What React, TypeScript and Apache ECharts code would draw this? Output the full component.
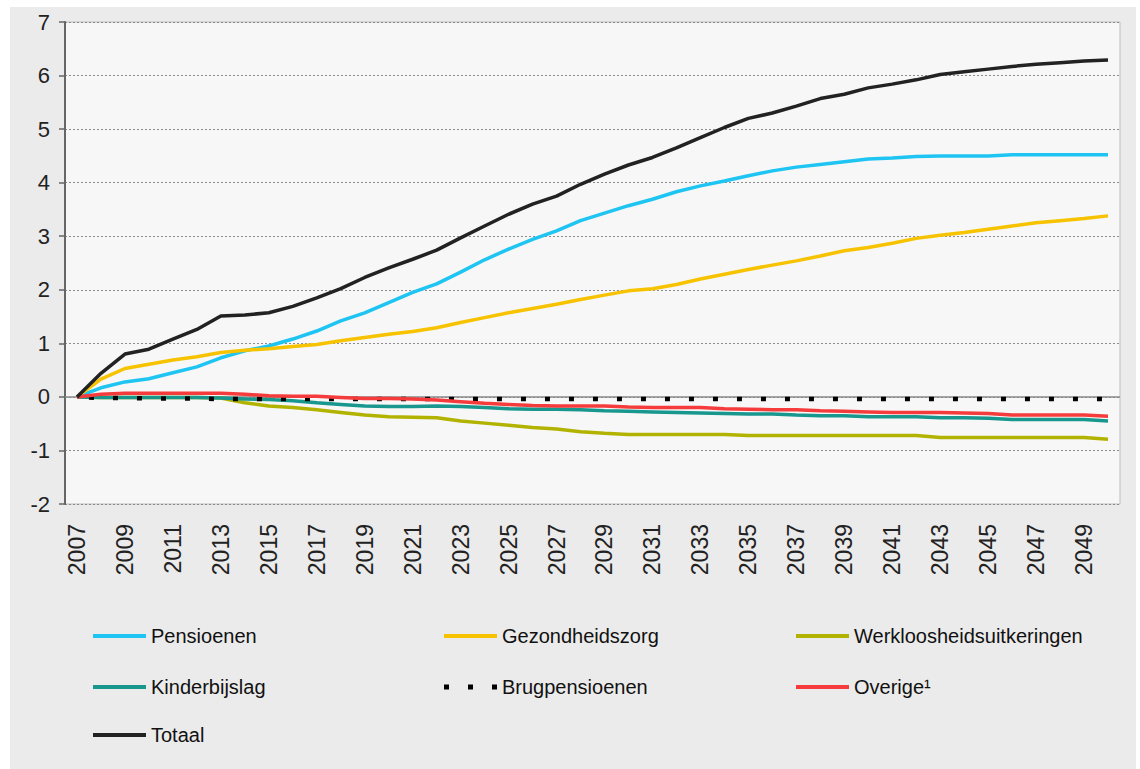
import React, { useEffect, useRef } from "react";
import * as echarts from "echarts";

const years: string[] = [
  "2007","2008","2009","2010","2011","2012","2013","2014","2015","2016",
  "2017","2018","2019","2020","2021","2022","2023","2024","2025","2026",
  "2027","2028","2029","2030","2031","2032","2033","2034","2035","2036",
  "2037","2038","2039","2040","2041","2042","2043","2044","2045","2046",
  "2047","2048","2049","2050",
];

const yTicks: number[] = [-2, -1, 0, 1, 2, 3, 4, 5, 6, 7];

const pensioenen: number[] = [
  0, 0.17, 0.28, 0.34, 0.45, 0.56, 0.73, 0.86, 0.95, 1.08,
  1.23, 1.42, 1.57, 1.76, 1.95, 2.11, 2.33, 2.56, 2.76, 2.94,
  3.10, 3.29, 3.43, 3.57, 3.69, 3.83, 3.94, 4.03, 4.13, 4.22,
  4.29, 4.34, 4.39, 4.44, 4.46, 4.49, 4.50, 4.50, 4.50, 4.52,
  4.52, 4.52, 4.52, 4.52,
];

const gezondheidszorg: number[] = [
  0, 0.33, 0.53, 0.61, 0.69, 0.75, 0.83, 0.87, 0.90, 0.94,
  0.98, 1.05, 1.11, 1.17, 1.22, 1.29, 1.39, 1.48, 1.57, 1.65,
  1.73, 1.82, 1.90, 1.98, 2.02, 2.10, 2.20, 2.29, 2.38, 2.46,
  2.54, 2.63, 2.73, 2.79, 2.87, 2.96, 3.02, 3.07, 3.13, 3.19,
  3.25, 3.29, 3.33, 3.38,
];

const werkloosheid: number[] = [
  0, -0.01, -0.01, -0.01, -0.01, -0.01, -0.02, -0.11, -0.17, -0.20,
  -0.24, -0.29, -0.34, -0.37, -0.38, -0.39, -0.45, -0.49, -0.53, -0.57,
  -0.60, -0.65, -0.68, -0.70, -0.70, -0.70, -0.70, -0.70, -0.72, -0.72,
  -0.72, -0.72, -0.72, -0.72, -0.72, -0.72, -0.76, -0.76, -0.76, -0.76,
  -0.76, -0.76, -0.76, -0.79,
];

const kinderbijslag: number[] = [
  0, -0.01, -0.01, -0.01, -0.01, -0.01, -0.02, -0.04, -0.05, -0.07,
  -0.11, -0.14, -0.17, -0.18, -0.18, -0.17, -0.18, -0.20, -0.22, -0.23,
  -0.23, -0.24, -0.26, -0.27, -0.28, -0.29, -0.30, -0.31, -0.32, -0.32,
  -0.34, -0.35, -0.35, -0.37, -0.37, -0.37, -0.39, -0.39, -0.40, -0.42,
  -0.42, -0.42, -0.42, -0.45,
];

const brugpensioenen: number[] = [
  0, -0.02, -0.02, -0.03, -0.03, -0.03, -0.04, -0.04, -0.04, -0.04,
  -0.04, -0.04, -0.04, -0.04, -0.04, -0.04, -0.04, -0.04, -0.04, -0.04,
  -0.04, -0.04, -0.04, -0.04, -0.04, -0.04, -0.04, -0.04, -0.04, -0.04,
  -0.04, -0.04, -0.04, -0.04, -0.04, -0.04, -0.04, -0.04, -0.04, -0.04,
  -0.04, -0.04, -0.04, -0.04,
];

const overige: number[] = [
  0, 0.05, 0.07, 0.07, 0.07, 0.07, 0.07, 0.05, 0.02, 0.01,
  0.01, -0.01, -0.03, -0.03, -0.04, -0.06, -0.09, -0.12, -0.14, -0.16,
  -0.17, -0.17, -0.17, -0.19, -0.20, -0.20, -0.20, -0.22, -0.23, -0.24,
  -0.24, -0.26, -0.27, -0.28, -0.29, -0.29, -0.29, -0.30, -0.31, -0.34,
  -0.34, -0.34, -0.34, -0.36,
];

const totaal: number[] = [
  0, 0.44, 0.80, 0.89, 1.08, 1.26, 1.51, 1.53, 1.57, 1.69,
  1.85, 2.02, 2.23, 2.41, 2.57, 2.74, 2.97, 3.19, 3.41, 3.60,
  3.75, 3.97, 4.16, 4.33, 4.47, 4.65, 4.84, 5.03, 5.20, 5.30,
  5.43, 5.57, 5.65, 5.77, 5.84, 5.92, 6.02, 6.07, 6.12, 6.17,
  6.21, 6.24, 6.27, 6.29,
];

const seriesNames: string[] = [
  "Pensioenen",
  "Gezondheidszorg",
  "Werkloosheidsuitkeringen",
  "Kinderbijslag",
  "Brugpensioenen",
  "Overige¹",
  "Totaal",
];

const FONT = "'Liberation Sans', Arial, Helvetica, sans-serif";

export default function App() {
  const ref = useRef<HTMLDivElement>(null);

  useEffect(() => {
    if (!ref.current) return;
    const chart = echarts.init(ref.current, undefined, { renderer: "svg" });

    const colors: Record<string, string> = {
      Pensioenen: "#1ec4f2",
      Gezondheidszorg: "#f7c300",
      Werkloosheidsuitkeringen: "#b2b300",
      Kinderbijslag: "#17978d",
      Brugpensioenen: "#000000",
      "Overige¹": "#f53b3b",
      Totaal: "#222222",
    };
    const dataMap: Record<string, number[]> = {
      Pensioenen: pensioenen,
      Gezondheidszorg: gezondheidszorg,
      Werkloosheidsuitkeringen: werkloosheid,
      Kinderbijslag: kinderbijslag,
      Brugpensioenen: brugpensioenen,
      "Overige¹": overige,
      Totaal: totaal,
    };

    const legendPos: Record<string, [number, number]> = {
      Pensioenen: [93, 636],
      Gezondheidszorg: [444, 636],
      Werkloosheidsuitkeringen: [796, 636],
      Kinderbijslag: [93, 687],
      Brugpensioenen: [444, 687],
      "Overige¹": [796, 687],
      Totaal: [93, 735],
    };

    const legends = seriesNames.map((n) => {
      const dotted = n === "Brugpensioenen";
      return {
        show: true,
        data: [n],
        left: legendPos[n][0],
        top: legendPos[n][1] - 11,
        orient: "horizontal",
        icon: dotted
          ? "path://M0,0h5v5h-5z M24,0h5v5h-5z M48,0h5v5h-5z"
          : "rect",
        itemWidth: 53,
        itemHeight: dotted ? 5 : 4,
        padding: 0,
        selectedMode: false,
        textStyle: {
          fontFamily: FONT,
          fontSize: 20,
          color: "#111",
          lineHeight: 22,
        },
      };
    });

    const series: any[] = seriesNames.map((n, i) => {
      const s: any = {
        name: n,
        type: "line",
        data: dataMap[n],
        symbol: "none",
        showSymbol: false,
        lineStyle: {
          color: colors[n],
          width: n === "Brugpensioenen" ? 4.5 : 3.5,
          type: n === "Brugpensioenen" ? [5, 19] : "solid",
          dashOffset: n === "Brugpensioenen" ? 12 : 0,
          cap: "butt",
        },
        itemStyle: { color: colors[n] },
        z: 2 + i,
      };
      if (i === 0) {
        s.markLine = {
          silent: true,
          symbol: "none",
          label: { show: false },
          lineStyle: { color: "#8a8a8a", width: 1.5, type: "solid" },
          data: [{ yAxis: 0 }],
          z: 1,
        };
      }
      return s;
    });

    chart.setOption({
      animation: false,
      backgroundColor: "transparent",
      graphic: [
        {
          type: "rect",
          shape: { x: 10, y: 7, width: 1126, height: 762 },
          style: { fill: "#ebebeb" },
          z: -10,
          silent: true,
        },
      ],
      grid: {
        left: 65,
        top: 22,
        right: 20,
        bottom: 265,
        show: true,
        backgroundColor: "#f7f7f7",
        borderColor: "#bdbdbd",
        borderWidth: 1,
      },
      legend: legends,
      xAxis: {
        type: "category",
        data: years,
        boundaryGap: true,
        axisLine: { show: false, onZero: false },
        axisTick: { show: false },
        splitLine: { show: false },
        axisLabel: {
          interval: 1,
          rotate: 90,
          margin: 20,
          fontFamily: FONT,
          fontSize: 23,
          color: "#222",
        },
      },
      yAxis: {
        type: "value",
        min: -2,
        max: 7,
        interval: 1,
        axisLine: { show: true, lineStyle: { color: "#666", width: 2 } },
        axisTick: {
          show: true,
          inside: false,
          length: 6,
          lineStyle: { color: "#666", width: 1.5 },
        },
        axisLabel: {
          margin: 15,
          fontFamily: FONT,
          fontSize: 22,
          color: "#222",
          formatter: (v: number) => (yTicks.includes(v) ? String(v) : ""),
        },
        splitLine: {
          show: true,
          lineStyle: { color: "#8c8c8c", width: 1, type: [2, 2] },
        },
      },
      series,
    });

    return () => {
      chart.dispose();
    };
  }, []);

  return (
    <div
      ref={ref}
      style={{
        position: "absolute",
        left: 0,
        top: 0,
        width: 1140,
        height: 769,
        background: "#ffffff",
      }}
    />
  );
}
